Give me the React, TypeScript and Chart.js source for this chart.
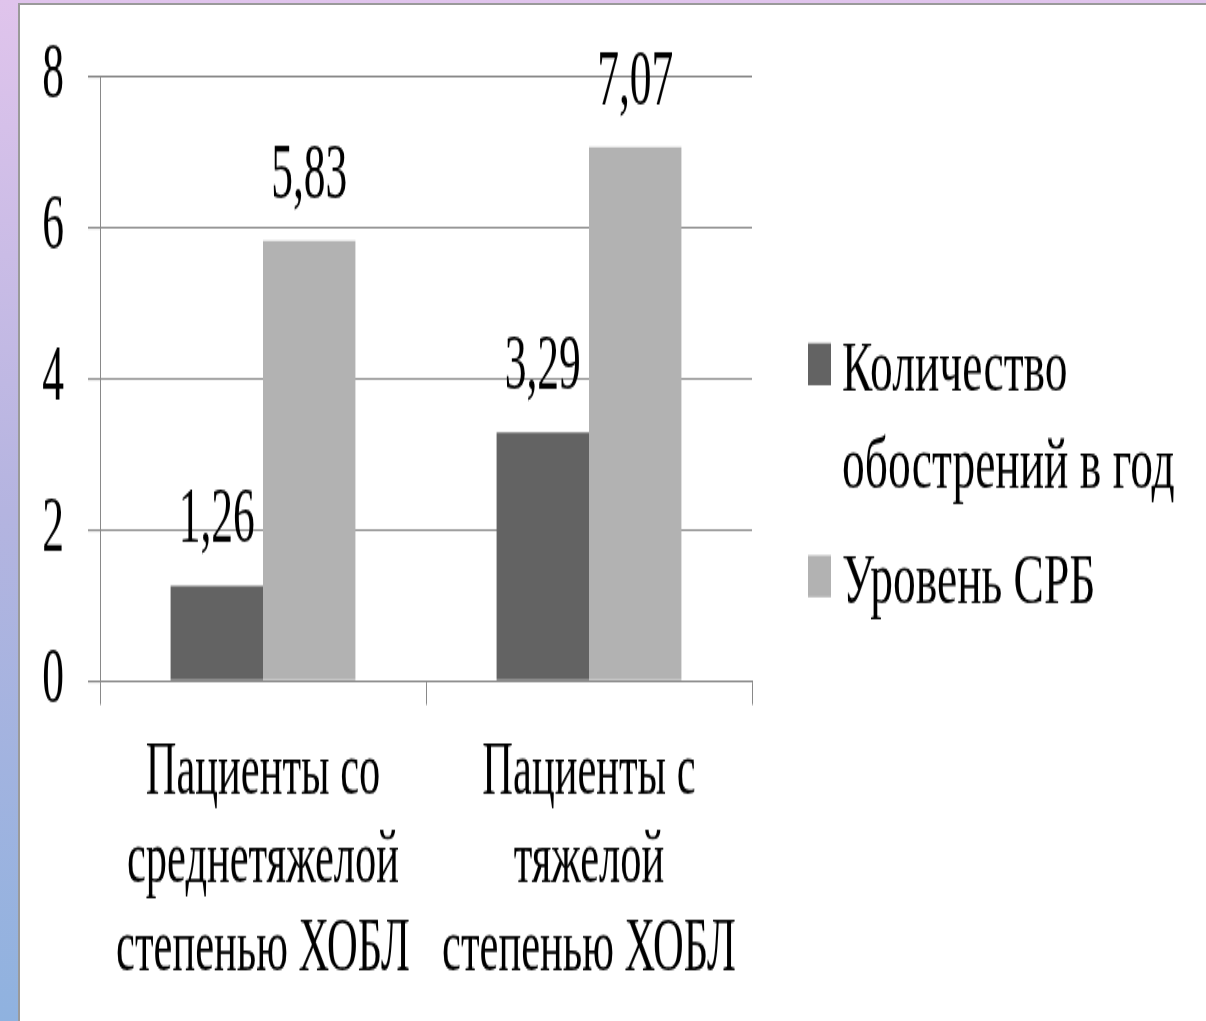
import React, { useEffect, useRef } from "react";
import { Chart, registerables } from "chart.js";

Chart.register(...registerables);

const categories: string[][] = [
  ["Пациенты со", "среднетяжелой", "степенью ХОБЛ"],
  ["Пациенты с", "тяжелой", "степенью ХОБЛ"],
];
const seriesNames: string[][] = [["Количество", "обострений в год"], ["Уровень СРБ"]];
const exacerbations: number[] = [1.26, 3.29];
const crpLevel: number[] = [5.83, 7.07];
const yTicks: number[] = [0, 2, 4, 6, 8];

const S = 1.8; // vertical stretch of the original picture
const W = 1206;
const H = 567;
const FONT = "'Liberation Serif', 'Times New Roman', serif";
const DARK = "#636363";
const LIGHT = "#b2b2b2";
const GRID = "#898989";

const valueLabels = {
  id: "valueLabels",
  afterDatasetsDraw(chart: any) {
    const ctx = chart.ctx;
    ctx.save();
    ctx.font = `43.5px ${FONT}`;
    ctx.fillStyle = "#000";
    ctx.textAlign = "center";
    ctx.textBaseline = "alphabetic";
    chart.data.datasets.forEach((ds: any, i: number) => {
      const meta = chart.getDatasetMeta(i);
      meta.data.forEach((bar: any, j: number) => {
        const v = ds.data[j];
        ctx.fillText(v.toFixed(2).replace(".", ","), bar.x, bar.y - 24);
      });
    });
    ctx.restore();
  },
};

const sideLegend = {
  id: "sideLegend",
  afterDraw(chart: any) {
    const ctx = chart.ctx;
    const area = chart.chartArea;
    ctx.save();
    ctx.font = `45.5px ${FONT}`;
    ctx.textAlign = "left";
    ctx.textBaseline = "alphabetic";
    const boxX = area.right + 56;
    const textX = area.right + 90;
    const linePitch = 53.9;
    const itemGap = 63.9;
    const squeeze = 0.88;
    let baseline = area.top + 173.9;
    chart.data.datasets.forEach((ds: any) => {
      const lines: string[] = Array.isArray(ds.label) ? ds.label : [ds.label];
      ctx.fillStyle = ds.backgroundColor;
      ctx.fillRect(boxX, baseline - 26, 23, 23.3);
      ctx.fillStyle = "#000";
      lines.forEach((ln, k) => {
        ctx.save();
        ctx.translate(textX, baseline + k * linePitch);
        ctx.scale(1, squeeze);
        ctx.fillText(ln, 0, 0);
        ctx.restore();
      });
      baseline += (lines.length - 1) * linePitch + itemGap;
    });
    ctx.restore();
  },
};

export default function App() {
  const ref = useRef<HTMLCanvasElement | null>(null);

  useEffect(() => {
    document.body.style.margin = "0";
    const canvas = ref.current!;
    const chart = new Chart(canvas, {
      type: "bar",
      data: {
        labels: categories,
        datasets: [
          {
            label: seriesNames[0] as any,
            data: exacerbations,
            backgroundColor: DARK,
            categoryPercentage: 0.567,
            barPercentage: 1,
          },
          {
            label: seriesNames[1] as any,
            data: crpLevel,
            backgroundColor: LIGHT,
            categoryPercentage: 0.567,
            barPercentage: 1,
          },
        ],
      },
      options: {
        responsive: false,
        animation: false,
        devicePixelRatio: 1,
        layout: { padding: { left: 0, right: W - 752, top: 42.8, bottom: 0 } },
        plugins: {
          legend: { display: false },
          tooltip: { enabled: false },
        },
        scales: {
          x: {
            grid: {
              display: true,
              drawOnChartArea: false,
              drawTicks: true,
              tickLength: 13.3,
              color: GRID,
              lineWidth: 1,
              offset: true,
            },
            border: { display: true, color: GRID, width: 1.1 },
            ticks: {
              color: "#000",
              font: { family: FONT, size: 42.5, lineHeight: 1.157 },
              padding: 13.3,
              maxRotation: 0,
              autoSkip: false,
            },
            afterFit: (scale: any) => {
              scale.height = H - 378.3;
            },
          },
          y: {
            min: 0,
            max: 8,
            afterBuildTicks: (scale: any) => {
              scale.ticks = yTicks.map((v) => ({ value: v }));
            },
            grid: {
              color: GRID,
              lineWidth: 1.1,
              tickLength: 12,
              drawTicks: true,
            },
            border: { display: true, color: GRID, width: 1 },
            ticks: {
              color: "#000",
              font: { family: FONT, size: 43.5 },
              padding: 24,
            },
            afterFit: (scale: any) => {
              scale.width = 100;
              scale.paddingTop = 0;
              scale.paddingBottom = 0;
            },
          },
        },
      },
      plugins: [valueLabels, sideLegend],
    });
    return () => chart.destroy();
  }, []);

  return (
    <div
      style={{
        position: "relative",
        width: W,
        height: 1021,
        overflow: "hidden",
        background: "linear-gradient(to bottom, #e0c4ec 0%, #b4b4e0 50%, #8fb2df 100%)",
      }}
    >
      <div
        style={{
          position: "absolute",
          left: 18,
          top: 3,
          right: 0,
          bottom: 0,
          background: "#fff",
          borderLeft: "2px solid #9a9a9a",
          borderTop: "2px solid #9a9a9a",
        }}
      />
      <div
        style={{
          position: "absolute",
          left: 0,
          top: 0,
          width: W,
          height: H,
          transform: `scale(1, ${S})`,
          transformOrigin: "0 0",
        }}
      >
        <canvas ref={ref} width={W} height={H} style={{ display: "block" }} />
      </div>
    </div>
  );
}
